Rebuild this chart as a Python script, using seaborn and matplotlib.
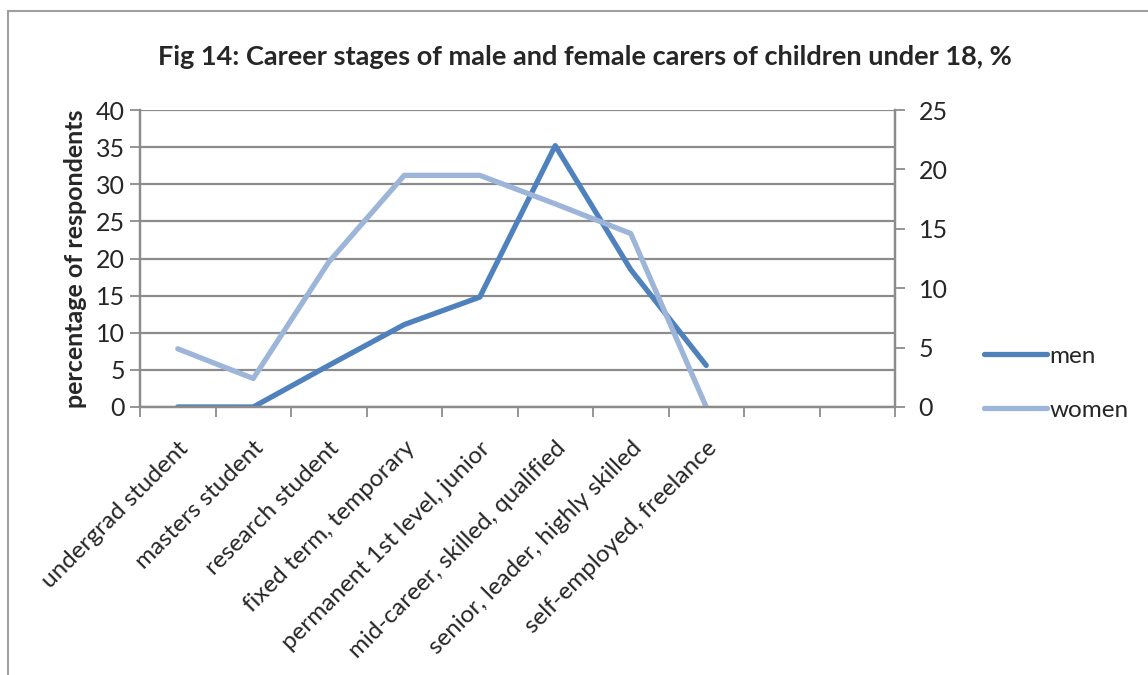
import matplotlib
matplotlib.use("Agg")
import matplotlib.pyplot as plt
import matplotlib.patches as mpatches
import seaborn as sns
import numpy as np

# data
stages = ["undergrad student", "masters student", "research student",
          "fixed term, temporary", "permanent 1st level, junior",
          "mid-career, skilled, qualified", "senior, leader, highly skilled",
          "self-employed, freelance"]
men = [0, 0, 5.6, 11.1, 14.8, 35.2, 18.5, 5.6]        # left axis
women = [4.9, 2.4, 12.2, 19.5, 19.5, 17.1, 14.6, 0]   # right axis
n_slots = 10  # excel category axis had two empty slots

sns.set_theme(style="white")
plt.rcParams['font.family'] = ['Lato', 'DejaVu Sans']

grey = "#8c8c8c"
c_men = "#4f81bd"
c_women = "#9db5d8"

fig = plt.figure(figsize=(11.48, 6.75), dpi=100)
ax = fig.add_axes([140 / 1148, 1 - 407 / 675, 755 / 1148, 297 / 675])
ax2 = ax.twinx()

x = np.arange(len(stages))
sns.lineplot(x=x, y=men, ax=ax, color=c_men, lw=3.8, label="men", legend=False)
sns.lineplot(x=x, y=women, ax=ax2, color=c_women, lw=3.8, label="women", legend=False)

ax.set_xlim(-0.5, n_slots - 0.5)
ax.set_ylim(0, 40)
ax2.set_ylim(0, 25)
ax.set_yticks(range(0, 41, 5))
ax2.set_yticks(range(0, 26, 5))

# gridlines
ax.yaxis.grid(True, color=grey, lw=1.6)
ax.xaxis.grid(False)
ax.set_axisbelow(True)

# category ticks at boundaries, labels at centres
ax.set_xticks(np.arange(-0.5, n_slots, 1))
ax.set_xticklabels([])
ax.set_xticks(x, minor=True)
ax.set_xticklabels(stages, minor=True, rotation=45, ha="right",
                   rotation_mode="anchor", fontsize=17.5)
ax.tick_params(axis="x", which="major", length=7, width=1.3, color=grey,
               direction="out", bottom=True)
ax.tick_params(axis="x", which="minor", length=0, pad=22)
ax.tick_params(axis="y", length=7, width=1.3, color=grey, direction="out",
               left=True, labelsize=18, pad=4)
ax2.tick_params(axis="y", length=7, width=1.3, color=grey, direction="out",
                right=True, labelsize=18, pad=10)

for a in (ax, ax2):
    a.spines["top"].set_visible(False)
    for s in ("left", "right", "bottom"):
        a.spines[s].set_color(grey)
        a.spines[s].set_linewidth(1.6)
ax2.grid(False)

ax.set_ylabel("percentage of respondents", fontsize=18, fontweight="bold",
              labelpad=6)
ax.set_xlabel("")
ax2.set_ylabel("")

fig.text(585 / 1148, 1 - 57 / 675,
         "Fig 14: Career stages of male and female carers of children under 18, %",
         ha="center", va="center", fontsize=19.5, fontweight="bold")

h1, l1 = ax.get_legend_handles_labels()
h2, l2 = ax2.get_legend_handles_labels()
fig.legend(h1 + h2, l1 + l2, loc="upper left",
           bbox_to_anchor=(962 / 1148, 1 - 324 / 675), frameon=False,
           fontsize=17.5, handlelength=2.6, handletextpad=0.1, labelspacing=1.35)

# outer chart frame
fig.patches.append(mpatches.Rectangle((8 / 1148, -0.05), 1.2, 1 - 11 / 675 + 0.05,
                                      transform=fig.transFigure, fill=False,
                                      edgecolor="#a0a0a0", lw=1.5))

fig.savefig("out.png", dpi=100)
